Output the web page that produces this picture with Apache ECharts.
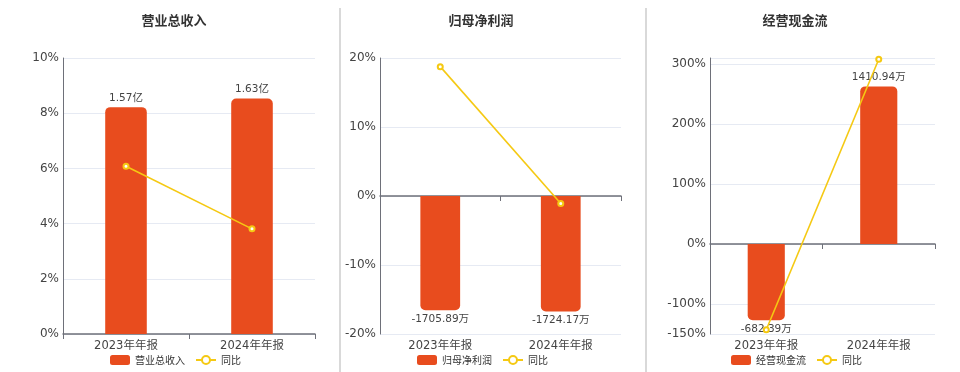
<!DOCTYPE html>
<html><head><meta charset="utf-8">
<script src="https://cdn.jsdelivr.net/npm/echarts@6/dist/echarts.min.js"></script>
<style>html,body{margin:0;padding:0;background:#fff}#c{width:960px;height:372px}</style>
</head><body><div id="c"></div>
<script>
const categories = ['2023年年报', '2024年年报'];
const titles = ['营业总收入', '归母净利润', '经营现金流'];
const revenueValues = [1.57, 1.63];          // 亿
const revenueYoY = [6.08, 3.81];             // %
const profitValues = [-1705.89, -1724.17];   // 万
const profitYoY = [18.75, -1.1];             // %
const cashValues = [-682.39, 1410.94];       // 万
const cashYoY = [-143, 308];                 // %

const FONT = "'DejaVu Sans', 'Noto Sans CJK SC', sans-serif";
const CJK = "'Noto Sans CJK SC', 'Noto Sans', sans-serif";
const BAR = '#E84C1E';
const LINE = '#F5C913';

const panels = [
  {title: titles[0], bars: revenueValues, yoy: revenueYoY, unit: '亿', digits: 2,
   grid: {left: 63, top: 58, width: 252, height: 276},
   lineAxis: {min: 0, max: 10, interval: 2}, barAxis: {min: 0, max: 1.91},
   center: 174},
  {title: titles[1], bars: profitValues, yoy: profitYoY, unit: '万', digits: 2,
   grid: {left: 380, top: 58, width: 241, height: 276},
   lineAxis: {min: -20, max: 20, interval: 10}, barAxis: {min: -2060, max: 2060},
   center: 481},
  {title: titles[2], bars: cashValues, yoy: cashYoY, unit: '万', digits: 2,
   grid: {left: 710, top: 58, width: 225, height: 276},
   lineAxis: {min: -150, max: 310}, barAxis: {min: -805, max: 1665},
   center: 795}
];

const option = {
  animation: false,
  textStyle: {fontFamily: FONT},
  title: [], grid: [], xAxis: [], yAxis: [], series: [], legend: [],
  graphic: [
    {type: 'line', shape: {x1: 340, y1: 8, x2: 340, y2: 372}, style: {stroke: '#d9d9d9', lineWidth: 2}},
    {type: 'line', shape: {x1: 646, y1: 8, x2: 646, y2: 372}, style: {stroke: '#d9d9d9', lineWidth: 2}}
  ]
};

panels.forEach((p, i) => {
  option.title.push({
    text: p.title, left: p.center - 5, top: 9, textAlign: 'center',
    textStyle: {fontSize: 13, fontWeight: 'bold', color: '#333', fontFamily: CJK}
  });
  option.grid.push(Object.assign({containLabel: false}, p.grid));
  option.xAxis.push({
    type: 'category', gridIndex: i, data: categories, position: 'bottom',
    axisLine: {show: false, onZero: false}, axisTick: {show: false},
    axisLabel: {fontSize: 11.5, color: '#444', margin: 6, fontFamily: FONT}
  });
  option.xAxis.push({
    type: 'category', gridIndex: i, data: categories, position: 'bottom',
    axisLine: {show: true, onZero: true, lineStyle: {color: '#6E7079', width: 1.5}},
    axisTick: {show: true, lineStyle: {color: '#6E7079'}},
    axisLabel: {show: false}
  });
  const la = {
    type: 'value', gridIndex: i, position: 'left',
    min: p.lineAxis.min, max: p.lineAxis.max,
    axisLine: {show: true, lineStyle: {color: '#6E7079'}},
    axisTick: {show: false},
    splitLine: {show: true, lineStyle: {color: '#E6EAF3'}},
    axisLabel: {fontSize: 12, color: '#444', margin: 4, formatter: '{value}%', fontFamily: FONT}
  };
  if (p.lineAxis.interval) la.interval = p.lineAxis.interval;
  if (i === 2) { la.axisLabel.showMaxLabel = false; }
  option.yAxis.push(la);
  option.yAxis.push({
    type: 'value', gridIndex: i, show: false,
    min: p.barAxis.min, max: p.barAxis.max, splitLine: {show: false}
  });
  const barName = p.title;
  option.series.push({
    name: barName, type: 'bar', xAxisIndex: i * 2, yAxisIndex: i * 2 + 1,
    barWidth: '33%',
    itemStyle: {color: BAR},
    data: p.bars.map(v => ({
      value: v,
      itemStyle: {borderRadius: v >= 0 ? [5, 5, 0, 0] : [0, 0, 5, 5]},
      label: {position: v >= 0 ? 'top' : 'bottom'}
    })),
    label: {
      show: true, fontSize: 10.5, color: '#444', distance: 4, fontFamily: FONT,
      formatter: (d) => d.value.toFixed(p.digits) + p.unit
    }
  });
  option.series.push({
    name: '同比', type: 'line', xAxisIndex: i * 2, yAxisIndex: i * 2,
    data: p.yoy, symbol: 'emptyCircle', symbolSize: 5,
    lineStyle: {color: LINE, width: 1.6}, itemStyle: {color: LINE},
    z: 5
  });
  const legendWidth = 128;
  option.legend.push({
    data: [barName, '同比'], left: p.center - legendWidth / 2, top: 355,
    itemWidth: 20, itemHeight: 10, itemGap: 10, padding: 0,
    textStyle: {fontSize: 10, color: '#333', fontFamily: CJK}
  });
});

const chart = echarts.init(document.getElementById('c'), null, {renderer: 'canvas'});
chart.setOption(option);
</script>
</body></html>
